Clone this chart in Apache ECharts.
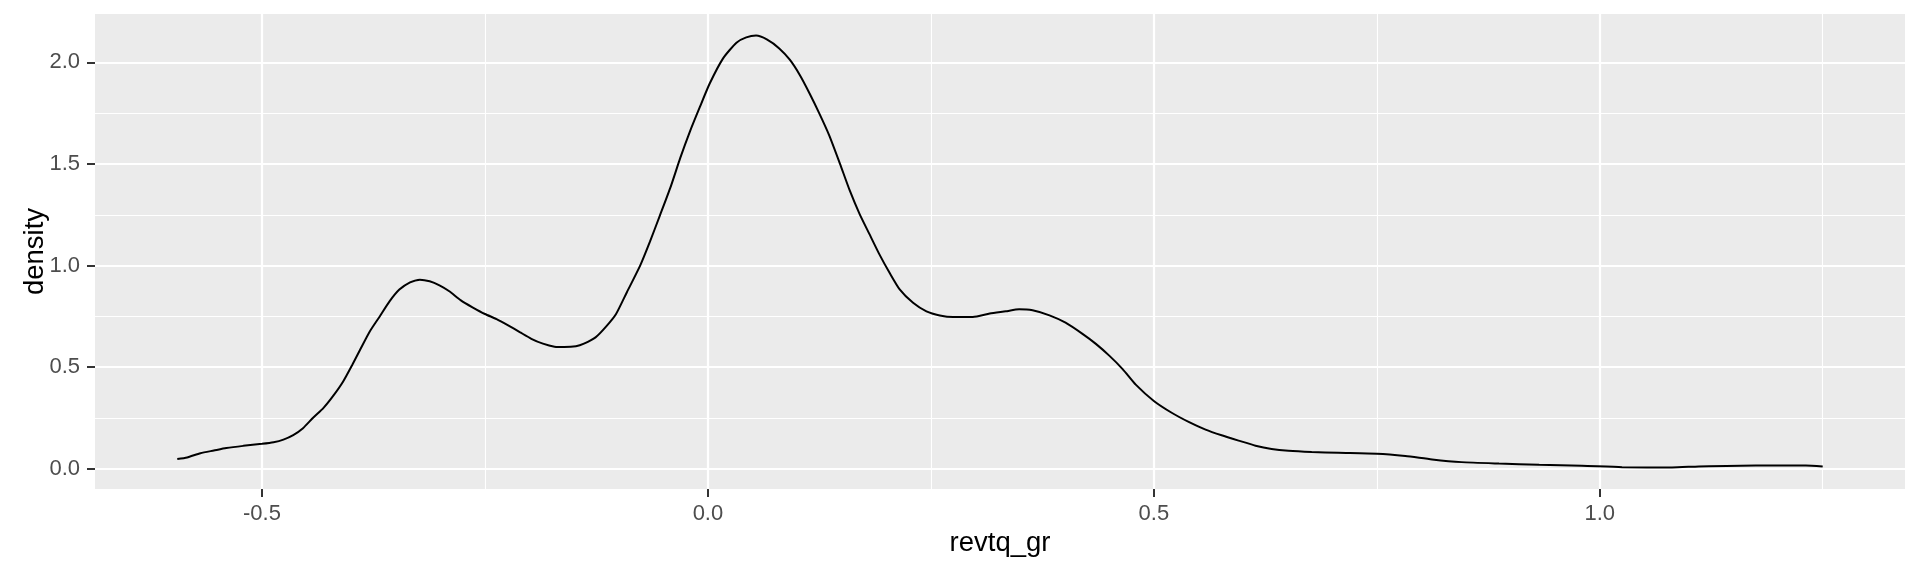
<!DOCTYPE html>
<html>
<head>
<meta charset="utf-8">
<script src="https://cdn.jsdelivr.net/npm/echarts@6/dist/echarts.min.js"></script>
<style>
html,body{margin:0;padding:0;background:#fff;}
#chart{width:1920px;height:576px;}
</style>
</head>
<body>
<div id="chart"></div>
<script>
// revtq_gr values (x) of the density curve
var revtqX = [-0.595, -0.584, -0.569, -0.554, -0.540, -0.521, -0.500, -0.487, -0.476, -0.465,
  -0.454, -0.443, -0.431, -0.420, -0.409, -0.399, -0.390, -0.379, -0.368, -0.357,
  -0.346, -0.334, -0.323, -0.312, -0.301, -0.290, -0.277, -0.264, -0.250, -0.237,
  -0.224, -0.211, -0.198, -0.185, -0.172, -0.161, -0.148, -0.139, -0.126, -0.114,
  -0.103, -0.091, -0.076, -0.065, -0.054, -0.042, -0.031, -0.020, -0.009, 0.002,
  0.017, 0.032, 0.043, 0.054, 0.066, 0.080, 0.092, 0.103, 0.114, 0.125,
  0.136, 0.148, 0.159, 0.170, 0.181, 0.192, 0.204, 0.215, 0.230, 0.245,
  0.260, 0.275, 0.297, 0.316, 0.334, 0.349, 0.364, 0.383, 0.401, 0.420,
  0.435, 0.450, 0.465, 0.480, 0.500, 0.520, 0.539, 0.558, 0.576, 0.595,
  0.614, 0.632, 0.651, 0.677, 0.707, 0.750, 0.782, 0.812, 0.845, 0.887,
  0.932, 0.980, 1.025, 1.081, 1.111, 1.175, 1.231, 1.250];
// density values (y)
var densityY = [0.048, 0.056, 0.077, 0.090, 0.102, 0.113, 0.123, 0.131, 0.144, 0.166,
  0.200, 0.250, 0.300, 0.360, 0.430, 0.510, 0.586, 0.677, 0.750, 0.824,
  0.882, 0.918, 0.931, 0.923, 0.903, 0.874, 0.829, 0.795, 0.762, 0.737,
  0.706, 0.673, 0.640, 0.616, 0.601, 0.599, 0.603, 0.616, 0.647, 0.701,
  0.762, 0.868, 1.000, 1.118, 1.245, 1.385, 1.530, 1.662, 1.781, 1.896,
  2.020, 2.097, 2.123, 2.132, 2.113, 2.069, 2.012, 1.938, 1.847, 1.748,
  1.641, 1.502, 1.370, 1.255, 1.156, 1.058, 0.962, 0.883, 0.817, 0.775,
  0.755, 0.747, 0.747, 0.764, 0.775, 0.785, 0.780, 0.755, 0.719, 0.664,
  0.615, 0.557, 0.491, 0.413, 0.334, 0.276, 0.231, 0.193, 0.165, 0.139,
  0.114, 0.098, 0.089, 0.083, 0.079, 0.0745, 0.063, 0.046, 0.033, 0.026,
  0.020, 0.015, 0.008, 0.007, 0.012, 0.017, 0.017, 0.012];
// tick labels / gridlines
var xTicks = [-0.5, 0.0, 0.5, 1.0];
var xMinorTicks = [-0.25, 0.25, 0.75, 1.25];
var yTicks = [0.0, 0.5, 1.0, 1.5, 2.0];
var yMinorTicks = [0.25, 0.75, 1.25, 1.75];

function expand(arr) {
  var lo = Math.min.apply(null, arr), hi = Math.max.apply(null, arr), r = hi - lo;
  return [lo - 0.05 * r, hi + 0.05 * r];
}
var xr = expand(revtqX), yr = expand(densityY);
var points = revtqX.map(function (x, i) { return [x, densityY[i]]; });

var FONT = '"Liberation Sans", Arial, sans-serif';
var chart = echarts.init(document.getElementById('chart'), null, {renderer: 'canvas'});

function gridLines(xs, ys) {
  return xs.map(function (v) { return {xAxis: v}; })
    .concat(ys.map(function (v) { return {yAxis: v}; }));
}

var axisCommon = {
  type: 'value',
  axisLine: {show: false, onZero: false},
  splitLine: {show: false},
  axisTick: {show: true, length: 8, lineStyle: {color: '#333333', width: 2}},
  axisLabel: {color: '#4D4D4D', fontSize: 22, fontFamily: FONT,
    formatter: function (v) { return Number(v).toFixed(1); }},
  nameLocation: 'middle',
  nameMoveOverlap: false,
  nameTextStyle: {color: '#000000', fontSize: 27.5, fontFamily: FONT}
};

chart.setOption({
  animation: false,
  backgroundColor: '#ffffff',
  grid: {left: 95, right: 15, top: 14, bottom: 87, show: true,
    backgroundColor: '#EBEBEB', borderWidth: 0, containLabel: false},
  xAxis: echarts.util.merge({
    min: xr[0], max: xr[1],
    name: 'revtq_gr', nameGap: 40,
    axisTick: {customValues: xTicks},
    axisLabel: {customValues: xTicks, margin: 14}
  }, axisCommon),
  yAxis: echarts.util.merge({
    min: yr[0], max: yr[1],
    name: 'density', nameGap: 46,
    axisTick: {customValues: yTicks},
    axisLabel: {customValues: yTicks, margin: 15}
  }, axisCommon),
  series: [
    {
      type: 'line', data: [], z: 1, silent: true,
      markLine: {silent: true, symbol: 'none', animation: false,
        label: {show: false},
        lineStyle: {color: '#ffffff', width: 1.1, type: 'solid'},
        emphasis: {disabled: true},
        data: gridLines(xMinorTicks, yMinorTicks)}
    },
    {
      type: 'line', data: [], z: 2, silent: true,
      markLine: {silent: true, symbol: 'none', animation: false,
        label: {show: false},
        lineStyle: {color: '#ffffff', width: 2.2, type: 'solid'},
        emphasis: {disabled: true},
        data: gridLines(xTicks, yTicks)}
    },
    {
      type: 'line', data: points, z: 5, showSymbol: false, symbol: 'none',
      smooth: 0.2, lineStyle: {color: '#000000', width: 2}
    }
  ]
});
</script>
</body>
</html>
